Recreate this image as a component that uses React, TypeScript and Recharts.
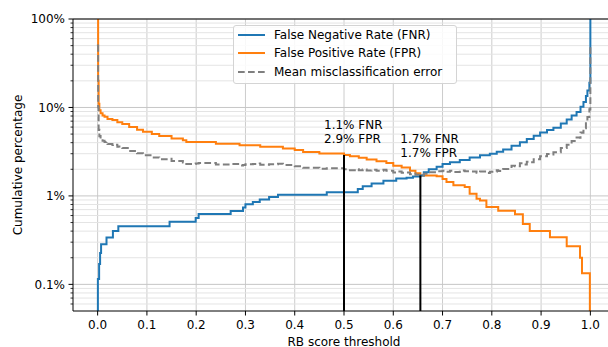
import { LineChart, Line, XAxis, YAxis, ReferenceLine, ReferenceDot, Legend } from 'recharts';

// FNR (blue): threshold -> cumulative %
const fnrThresholds = [0, 0.0005, 0.003, 0.005, 0.007, 0.018, 0.031, 0.042, 0.146, 0.199, 0.205, 0.27, 0.295, 0.3, 0.315, 0.329, 0.348, 0.366, 0.465, 0.528, 0.538, 0.556, 0.58, 0.606, 0.627, 0.64, 0.655, 0.662, 0.672, 0.688, 0.7, 0.715, 0.735, 0.755, 0.776, 0.796, 0.81, 0.823, 0.84, 0.857, 0.871, 0.885, 0.898, 0.912, 0.925, 0.94, 0.952, 0.962, 0.972, 0.98, 0.986, 0.991, 0.994, 0.998, 1.0];
const fnrRates = [0.01, 0.115, 0.17, 0.227, 0.284, 0.338, 0.4, 0.454, 0.51, 0.564, 0.626, 0.677, 0.74, 0.806, 0.855, 0.91, 0.97, 1.03, 1.1, 1.2, 1.29, 1.38, 1.48, 1.57, 1.6, 1.66, 1.7, 1.85, 2.0, 2.13, 2.3, 2.4, 2.55, 2.72, 2.88, 3.0, 3.15, 3.35, 3.7, 4.05, 4.4, 4.8, 5.2, 5.55, 5.9, 6.6, 7.3, 8.1, 8.9, 10.2, 11.5, 13.5, 15.5, 19, 100];

// FPR (orange)
const fprThresholds = [0, 0.001, 0.002, 0.0035, 0.006, 0.01, 0.014, 0.02, 0.03, 0.04, 0.05, 0.064, 0.08, 0.092, 0.11, 0.125, 0.15, 0.173, 0.18, 0.24, 0.288, 0.33, 0.376, 0.4, 0.417, 0.45, 0.5, 0.512, 0.53, 0.546, 0.566, 0.586, 0.6, 0.617, 0.634, 0.645, 0.655, 0.688, 0.7, 0.708, 0.722, 0.745, 0.755, 0.769, 0.776, 0.789, 0.813, 0.847, 0.863, 0.877, 0.918, 0.952, 0.979, 0.983, 0.999, 1.0];
const fprRates = [100, 20, 11, 9.3, 8.6, 8.1, 7.85, 7.4, 7.2, 6.8, 6.5, 6.0, 5.6, 5.3, 5.0, 4.75, 4.45, 4.26, 4.08, 3.9, 3.74, 3.6, 3.44, 3.3, 3.14, 3.02, 2.9, 2.81, 2.7, 2.58, 2.47, 2.36, 2.2, 2.09, 1.92, 1.8, 1.7, 1.67, 1.55, 1.44, 1.32, 1.26, 1.06, 0.93, 0.89, 0.75, 0.68, 0.62, 0.48, 0.4, 0.34, 0.27, 0.2, 0.134, 0.01, 0.01];

// marked thresholds
const markThresholds = [0.5, 0.655];
const markFnr = [1.1, 1.7];
const markFpr = [2.9, 1.7];

const xTicks = [0, 0.1, 0.2, 0.3, 0.4, 0.5, 0.6, 0.7, 0.8, 0.9, 1.0];
const majorTicks = [0.1, 1, 10, 100];
const minorTicks = [0.06, 0.07, 0.08, 0.09, 0.2, 0.3, 0.4, 0.5, 0.6, 0.7, 0.8, 0.9, 2, 3, 4, 5, 6, 7, 8, 9, 20, 30, 40, 50, 60, 70, 80, 90];
const majorLabels = ['0.1%', '1%', '10%', '100%'];

const FONT = '"DejaVu Sans", sans-serif';
const BLUE = '#1f77b4';
const ORANGE = '#ff7f0e';
const GRAY = '#7f7f7f';

const series = [
  { key: 'fnr', name: 'False Negative Rate (FNR)', color: BLUE, dash: undefined as string | undefined },
  { key: 'fpr', name: 'False Positive Rate (FPR)', color: ORANGE, dash: undefined as string | undefined },
  { key: 'mean', name: 'Mean misclassification error', color: GRAY, dash: '6.7 3.3' },
];

const toPoints = (xs: number[], ys: number[]) => xs.map((x, i) => ({ x, v: ys[i] }));

const stepValue = (xs: number[], ys: number[], t: number) => {
  let v = ys[0];
  for (let i = 0; i < xs.length; i++) if (xs[i] <= t) v = ys[i];
  return v;
};

const fnrData = toPoints(fnrThresholds, fnrRates);
const fprData = toPoints(fprThresholds, fprRates);
const allThresholds = Array.from(new Set([...fnrThresholds, ...fprThresholds])).sort((a, b) => a - b);
const meanData = allThresholds.map((t) => ({
  x: t,
  v: (stepValue(fnrThresholds, fnrRates, t) + stepValue(fprThresholds, fprRates, t)) / 2,
}));

const YTick = (props: any) => {
  const { x, y, payload } = props;
  const idx = majorTicks.indexOf(payload.value);
  if (idx < 0) {
    return <line x1={x - 2.5} x2={x} y1={y} y2={y} stroke="#000" strokeWidth={0.8} />;
  }
  return (
    <g>
      <line x1={x - 4.5} x2={x} y1={y} y2={y} stroke="#000" strokeWidth={1} />
      <text x={x - 8} y={y} dy="0.36em" textAnchor="end" fontSize={12} fontFamily={FONT} fill="#000">
        {majorLabels[idx]}
      </text>
    </g>
  );
};

const labelOffsets = [{ dx: -20, dy: -26 }, { dx: -20, dy: -33 }];

const markLabel = (i: number) => (props: any) => {
  const { cx, cy } = props;
  const o = labelOffsets[i];
  return (
    <g>
      <text x={cx + o.dx} y={cy + o.dy} fontSize={12} fontFamily={FONT} fill="#000">
        {`${markFnr[i].toFixed(1)}% FNR`}
      </text>
      <text x={cx + o.dx} y={cy + o.dy + 14} fontSize={12} fontFamily={FONT} fill="#000">
        {`${markFpr[i].toFixed(1)}% FPR`}
      </text>
    </g>
  );
};

const LegendBox = () => (
  <div
    style={{
      width: 224,
      boxSizing: 'border-box',
      border: '1px solid #d4d4d4',
      borderRadius: 3,
      background: 'rgba(255,255,255,0.85)',
      padding: '0 0 2px 4px',
      fontFamily: FONT,
      fontSize: 12,
      color: '#000',
    }}
  >
    {series.map((s) => (
      <div key={s.key} style={{ display: 'flex', alignItems: 'center', height: 18.3 }}>
        <svg width={27} height={4} style={{ marginRight: 9 }}>
          <line x1={0} x2={27} y1={2} y2={2} stroke={s.color} strokeWidth={2} strokeDasharray={s.dash} />
        </svg>
        <span style={{ whiteSpace: 'nowrap' }}>{s.name}</span>
      </div>
    ))}
  </div>
);

const App = () => {
  return (
    <div
      style={{
        position: 'absolute',
        left: 0,
        top: 0,
        width: 608,
        height: 347,
        overflow: 'hidden',
        background: '#fff',
        fontFamily: FONT,
      }}
    >
      {/* plot area runs past the right edge, as in the reference */}
      <LineChart width={608} height={347} margin={{ top: 19, right: -7, bottom: 0, left: 0 }}>
        {xTicks.map((v) => (
          <ReferenceLine key={`gx${v}`} x={v} stroke="#cccccc" strokeWidth={1} />
        ))}
        {minorTicks.map((v) => (
          <ReferenceLine key={`mn${v}`} y={v} stroke="#e4e4e4" strokeWidth={1} />
        ))}
        {majorTicks.map((v) => (
          <ReferenceLine key={`mj${v}`} y={v} stroke="#c6c6c6" strokeWidth={1} />
        ))}
        <XAxis
          type="number"
          dataKey="x"
          domain={[-0.05, 1.05]}
          ticks={xTicks}
          tickFormatter={(v: number) => v.toFixed(1)}
          tickSize={4.5}
          tickMargin={5}
          height={36}
          interval={0}
          stroke="#000"
          tick={{ fill: '#000', fontSize: 12, fontFamily: FONT }}
          label={{ value: 'RB score threshold', position: 'insideBottom', offset: 1.5, fill: '#000', fontSize: 12, fontFamily: FONT }}
        />
        <YAxis
          type="number"
          scale="log"
          domain={[0.05, 100]}
          allowDataOverflow
          ticks={[...majorTicks, ...minorTicks].sort((a, b) => a - b)}
          interval={0}
          width={73}
          tickSize={0}
          tickMargin={0}
          tickLine={false}
          stroke="#000"
          tick={<YTick />}
          label={{
            value: 'Cumulative percentage',
            angle: -90,
            position: 'insideLeft',
            offset: 18,
            fill: '#000',
            fontSize: 12,
            fontFamily: FONT,
            style: { textAnchor: 'middle' },
          }}
        />
        <Line data={fprData} dataKey="v" type="stepAfter" name={series[1].name} stroke={ORANGE} strokeWidth={2} dot={false} activeDot={false} isAnimationActive={false} />
        <Line data={fnrData} dataKey="v" type="stepAfter" name={series[0].name} stroke={BLUE} strokeWidth={2} dot={false} activeDot={false} isAnimationActive={false} />
        <Line data={meanData} dataKey="v" type="stepAfter" name={series[2].name} stroke={GRAY} strokeWidth={2} strokeDasharray="6.7 3.3" dot={false} activeDot={false} isAnimationActive={false} />
        {markThresholds.map((t, i) => (
          <ReferenceLine
            key={`mark${t}`}
            segment={[{ x: t, y: 0.05 }, { x: t, y: Math.max(markFnr[i], markFpr[i]) }]}
            stroke="#000"
            strokeWidth={2}
          />
        ))}
        {markThresholds.map((t, i) => (
          <ReferenceDot key={`lbl${t}`} x={t} y={Math.max(markFnr[i], markFpr[i])} r={0} shape={markLabel(i)} />
        ))}
        <ReferenceLine y={100} stroke="#000" strokeWidth={1} />
        <Legend
          layout="vertical"
          align="center"
          verticalAlign="middle"
          content={() => <LegendBox />}
          wrapperStyle={{ left: 233, top: 25, width: 224, height: 'auto' }}
        />
      </LineChart>
    </div>
  );
};

export default App;
